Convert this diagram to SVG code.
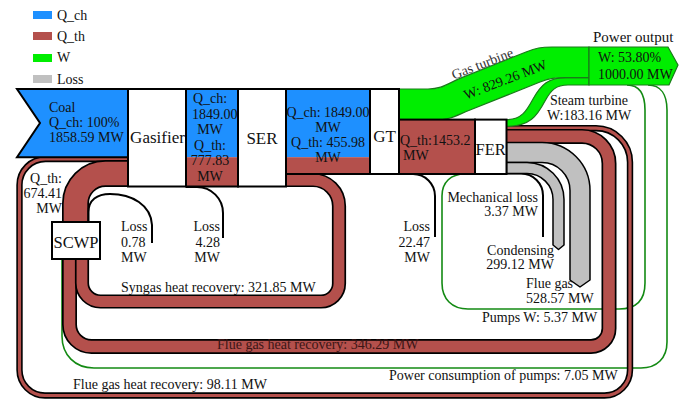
<svg xmlns="http://www.w3.org/2000/svg" width="688" height="400" viewBox="0 0 688 400">
<style>
text{font-family:"Liberation Serif","Times New Roman",serif;font-size:14px;fill:#111}
.nl{font-size:17px}
.m{text-anchor:middle}
.e{text-anchor:end}
.node{fill:#fff;stroke:#000;stroke-width:2}
.blue{fill:#1e90ff}
.red{fill:#b4504c}
.outl{fill:none;stroke:#000;stroke-width:2}
.green{fill:#00ee00;stroke:#1a7a1a;stroke-width:1.2}
.gray{fill:#c0c0c0;stroke:#000;stroke-width:1.5;stroke-linejoin:round}
.bk{fill:none;stroke:#000}
.rb{fill:none;stroke:#b4504c}
.loss{fill:none;stroke:#000;stroke-width:2}
.wl{fill:none;stroke:#138a13;stroke-width:1.6}
</style>
<rect x="0" y="0" width="688" height="400" fill="#fff"/>
<g id="legend">
<rect x="33" y="11" width="19" height="8" class="blue"/>
<text x="57" y="20">Q_ch</text>
<rect x="33" y="32" width="19" height="8" class="red"/>
<text x="57" y="41">Q_th</text>
<rect x="33" y="54" width="19" height="8" fill="#00ee00"/>
<text x="57" y="62">W</text>
<rect x="33" y="75" width="19" height="8" fill="#c0c0c0"/>
<text x="57" y="84">Loss</text>
</g>
<g id="connectors">
<path class="wl" d="M627,85 C640,85 645,95 645,110 L645,283 C645,300 636,309 619,309 L468,309 C452,309 442,299 442,283 L442,196 C442,182 451,174 465,174 L476,174"/>
<path class="wl" d="M648,85 C661,85 667,95 667,110 L667,342 C667,358 657,368 641,368 L94,368 C75,368 62,355 62,336 L62,259"/>
<path class="bk" stroke-width="6.4" d="M506.5,128.2 L596,128.2 A34,34 0 0 1 630,162.2 L630,370 A25.5,25.5 0 0 1 604.5,395.5 L45,395.5 A25.5,25.5 0 0 1 19.5,370 L19.5,185 A26,26 0 0 1 45.5,159 L128,159"/>
<path class="rb" stroke-width="3.2" d="M506.5,128.2 L596,128.2 A34,34 0 0 1 630,162.2 L630,370 A25.5,25.5 0 0 1 604.5,395.5 L45,395.5 A25.5,25.5 0 0 1 19.5,370 L19.5,185 A26,26 0 0 1 45.5,159 L128,159"/>
<path class="bk" stroke-width="15" d="M506.5,136.4 L582,136.4 A27,27 0 0 1 609,163.4 L609,328.5 A18,18 0 0 1 591,346.5 L91.5,346.5 A22,22 0 0 1 69.5,324.5 L69.5,259"/>
<path class="rb" stroke-width="11.6" d="M506.5,136.4 L582,136.4 A27,27 0 0 1 609,163.4 L609,328.5 A18,18 0 0 1 591,346.5 L91.5,346.5 A22,22 0 0 1 69.5,324.5 L69.5,259"/>
<path class="bk" stroke-width="14.2" d="M286,180 L313,180 A26,26 0 0 1 339,206 L339,283.5 A18,18 0 0 1 321,301.5 L100.5,301.5 A18.5,18.5 0 0 1 82,283 L82,259"/>
<path class="rb" stroke-width="10.8" d="M286,180 L313,180 A26,26 0 0 1 339,206 L339,283.5 A18,18 0 0 1 321,301.5 L100.5,301.5 A18.5,18.5 0 0 1 82,283 L82,259"/>
<path class="bk" stroke-width="27" d="M75.5,222 L75.5,203.5 A30,30 0 0 1 105.5,173.5 L128,173.5"/>
<path class="rb" stroke-width="23.6" d="M75.5,222 L75.5,203.5 A30,30 0 0 1 105.5,173.5 L128,173.5"/>
<path class="loss" d="M88.5,222 L88.5,212 C88.5,200 97,194 110,194 C132,194 151,205 152,225 L152,243"/>
<path class="loss" d="M186,187 L197,187 A26,26 0 0 1 223,213 L223,238"/>
<path class="loss" d="M399,174 L413,174 A22,22 0 0 1 435,196 L435,237"/>
<path class="loss" d="M506.5,173.5 L521,173.5 A22,22 0 0 1 543,195.5 L543,237"/>
<path class="gray" d="M506.5,142.5 L542,142.5 A48,48 0 0 1 590,190.5 L590,280 L580,287 L570,280 L570,190.5 A28,28 0 0 0 542,162.5 L506.5,162.5 Z"/>
<path class="gray" d="M506.5,162.5 L527,162.5 A37,37 0 0 1 564,199.5 L564,245 L558.5,249.5 L553,245 L553,199.5 A26,26 0 0 0 527,173.5 L506.5,173.5 Z"/>
<path class="green" d="M506.5,119.6 C522,119.6 527,110 533,99 C541,85 548,77.6 566,77.6 L589,77.6 L589,85 L568,85 C556,85 551,90 545,101 C537,116 530,126.4 506.5,126.4 Z"/>
<path class="green" d="M399,89 L428,89 C442,89 447,84 460,78.4 L526,52 C536,48 541,47 552,47 L589,47 L589,77.6 L566,77.6 C555,77.6 550,78 540,82 L470,110 C455,116 450,120 435,120 L399,120 Z"/>
<text transform="translate(484,68) rotate(-21)" class="m" style="fill:#333">Gas turbine</text>
<text transform="translate(507,84) rotate(-21)" class="m">W: 829.26 MW</text>
<text x="589" y="105" class="m">Steam turbine</text>
<text x="589" y="120" class="m">W:183.16 MW</text>
<text x="62" y="183" class="e">Q_th:</text>
<text x="62" y="198" class="e">674.41</text>
<text x="62" y="213" class="e">MW</text>
<text x="121" y="231">Loss</text>
<text x="121" y="246.5">0.78</text>
<text x="121" y="262">MW</text>
<text x="220" y="231" class="e">Loss</text>
<text x="220" y="246.5" class="e">4.28</text>
<text x="220" y="262" class="e">MW</text>
<text x="430" y="231" class="e">Loss</text>
<text x="430" y="246.5" class="e">22.47</text>
<text x="430" y="262" class="e">MW</text>
<text x="538" y="202" class="e">Mechanical loss</text>
<text x="538" y="216" class="e">3.37 MW</text>
<text x="554" y="255" class="e">Condensing</text>
<text x="554" y="269" class="e">299.12 MW</text>
<text x="526" y="288">Flue gas</text>
<text x="526" y="303">528.57 MW</text>
<text x="482" y="322">Pumps W: 5.37 MW</text>
<text x="121" y="292">Syngas heat recovery: 321.85 MW</text>
<text x="217" y="349" style="fill:#3a1515">Flue gas heat recovery: 346.29 MW</text>
<text x="389" y="380">Power consumption of pumps: 7.05 MW</text>
<text x="73" y="389">Flue gas heat recovery: 98.11 MW</text>
</g>
<g id="coal">
<path d="M17,89 L128,89 L128,157.2 L17,157.2 L40,123 Z" class="blue" stroke="#000" stroke-width="2"/>
<text x="49" y="112">Coal</text>
<text x="49" y="127">Q_ch: 100%</text>
<text x="49" y="142">1858.59 MW</text>
</g>
<g id="gasifier">
<rect x="128" y="89" width="58" height="97.5" class="node"/>
<text x="157.5" y="143" class="nl m">Gasifier</text>
</g>
<g id="syngas-flow-1">
<rect x="186" y="89" width="52" height="68.2" class="blue"/>
<rect x="186" y="157.2" width="52" height="29.3" class="red"/>
<rect x="186" y="89" width="52" height="97.5" class="outl"/>
<text x="210" y="103" class="m">Q_ch:</text>
<text x="192" y="118.5">1849.00</text>
<text x="210" y="134" class="m">MW</text>
<text x="210" y="149.5" class="m">Q_th:</text>
<text x="210" y="165" class="m">777.83</text>
<text x="210" y="180.5" class="m">MW</text>
</g>
<g id="ser">
<rect x="238" y="89" width="48" height="97.5" class="node"/>
<text x="262" y="144" class="nl m">SER</text>
</g>
<g id="syngas-flow-2">
<rect x="286" y="89" width="84" height="68.2" class="blue"/>
<rect x="286" y="157.2" width="84" height="16.8" class="red"/>
<rect x="286" y="89" width="84" height="85" class="outl"/>
<text x="328" y="117" class="m">Q_ch: 1849.00</text>
<text x="328" y="132" class="m">MW</text>
<text x="328" y="147" class="m">Q_th: 455.98</text>
<text x="328" y="162" class="m">MW</text>
</g>
<g id="gt">
<rect x="370" y="89" width="29" height="85" class="node"/>
<text x="384.5" y="142" class="nl m">GT</text>
</g>
<g id="flue-gas-flow">
<rect x="399" y="119.6" width="76" height="54.4" class="red" stroke="#000" stroke-width="2"/>
<text x="400" y="145">Q_th:1453.2</text>
<text x="403" y="160">MW</text>
</g>
<g id="fer">
<rect x="475" y="119.6" width="31.5" height="54.4" class="node"/>
<text x="490.75" y="155" class="nl m" style="font-size:16.5px">FER</text>
</g>
<g id="scwp">
<rect x="52" y="222" width="48" height="37" class="node"/>
<text x="76" y="248" class="nl m" style="font-size:16.5px">SCWP</text>
</g>
<g id="power-output">
<path d="M589,47 L668,47 L678,65 L669,85 L589,85 Z" class="green" stroke-width="1.6"/>
<text x="593" y="42" style="font-size:15px">Power output</text>
<text x="598" y="62">W: 53.80%</text>
<text x="598" y="79">1000.00 MW</text>
</g>
</svg>
